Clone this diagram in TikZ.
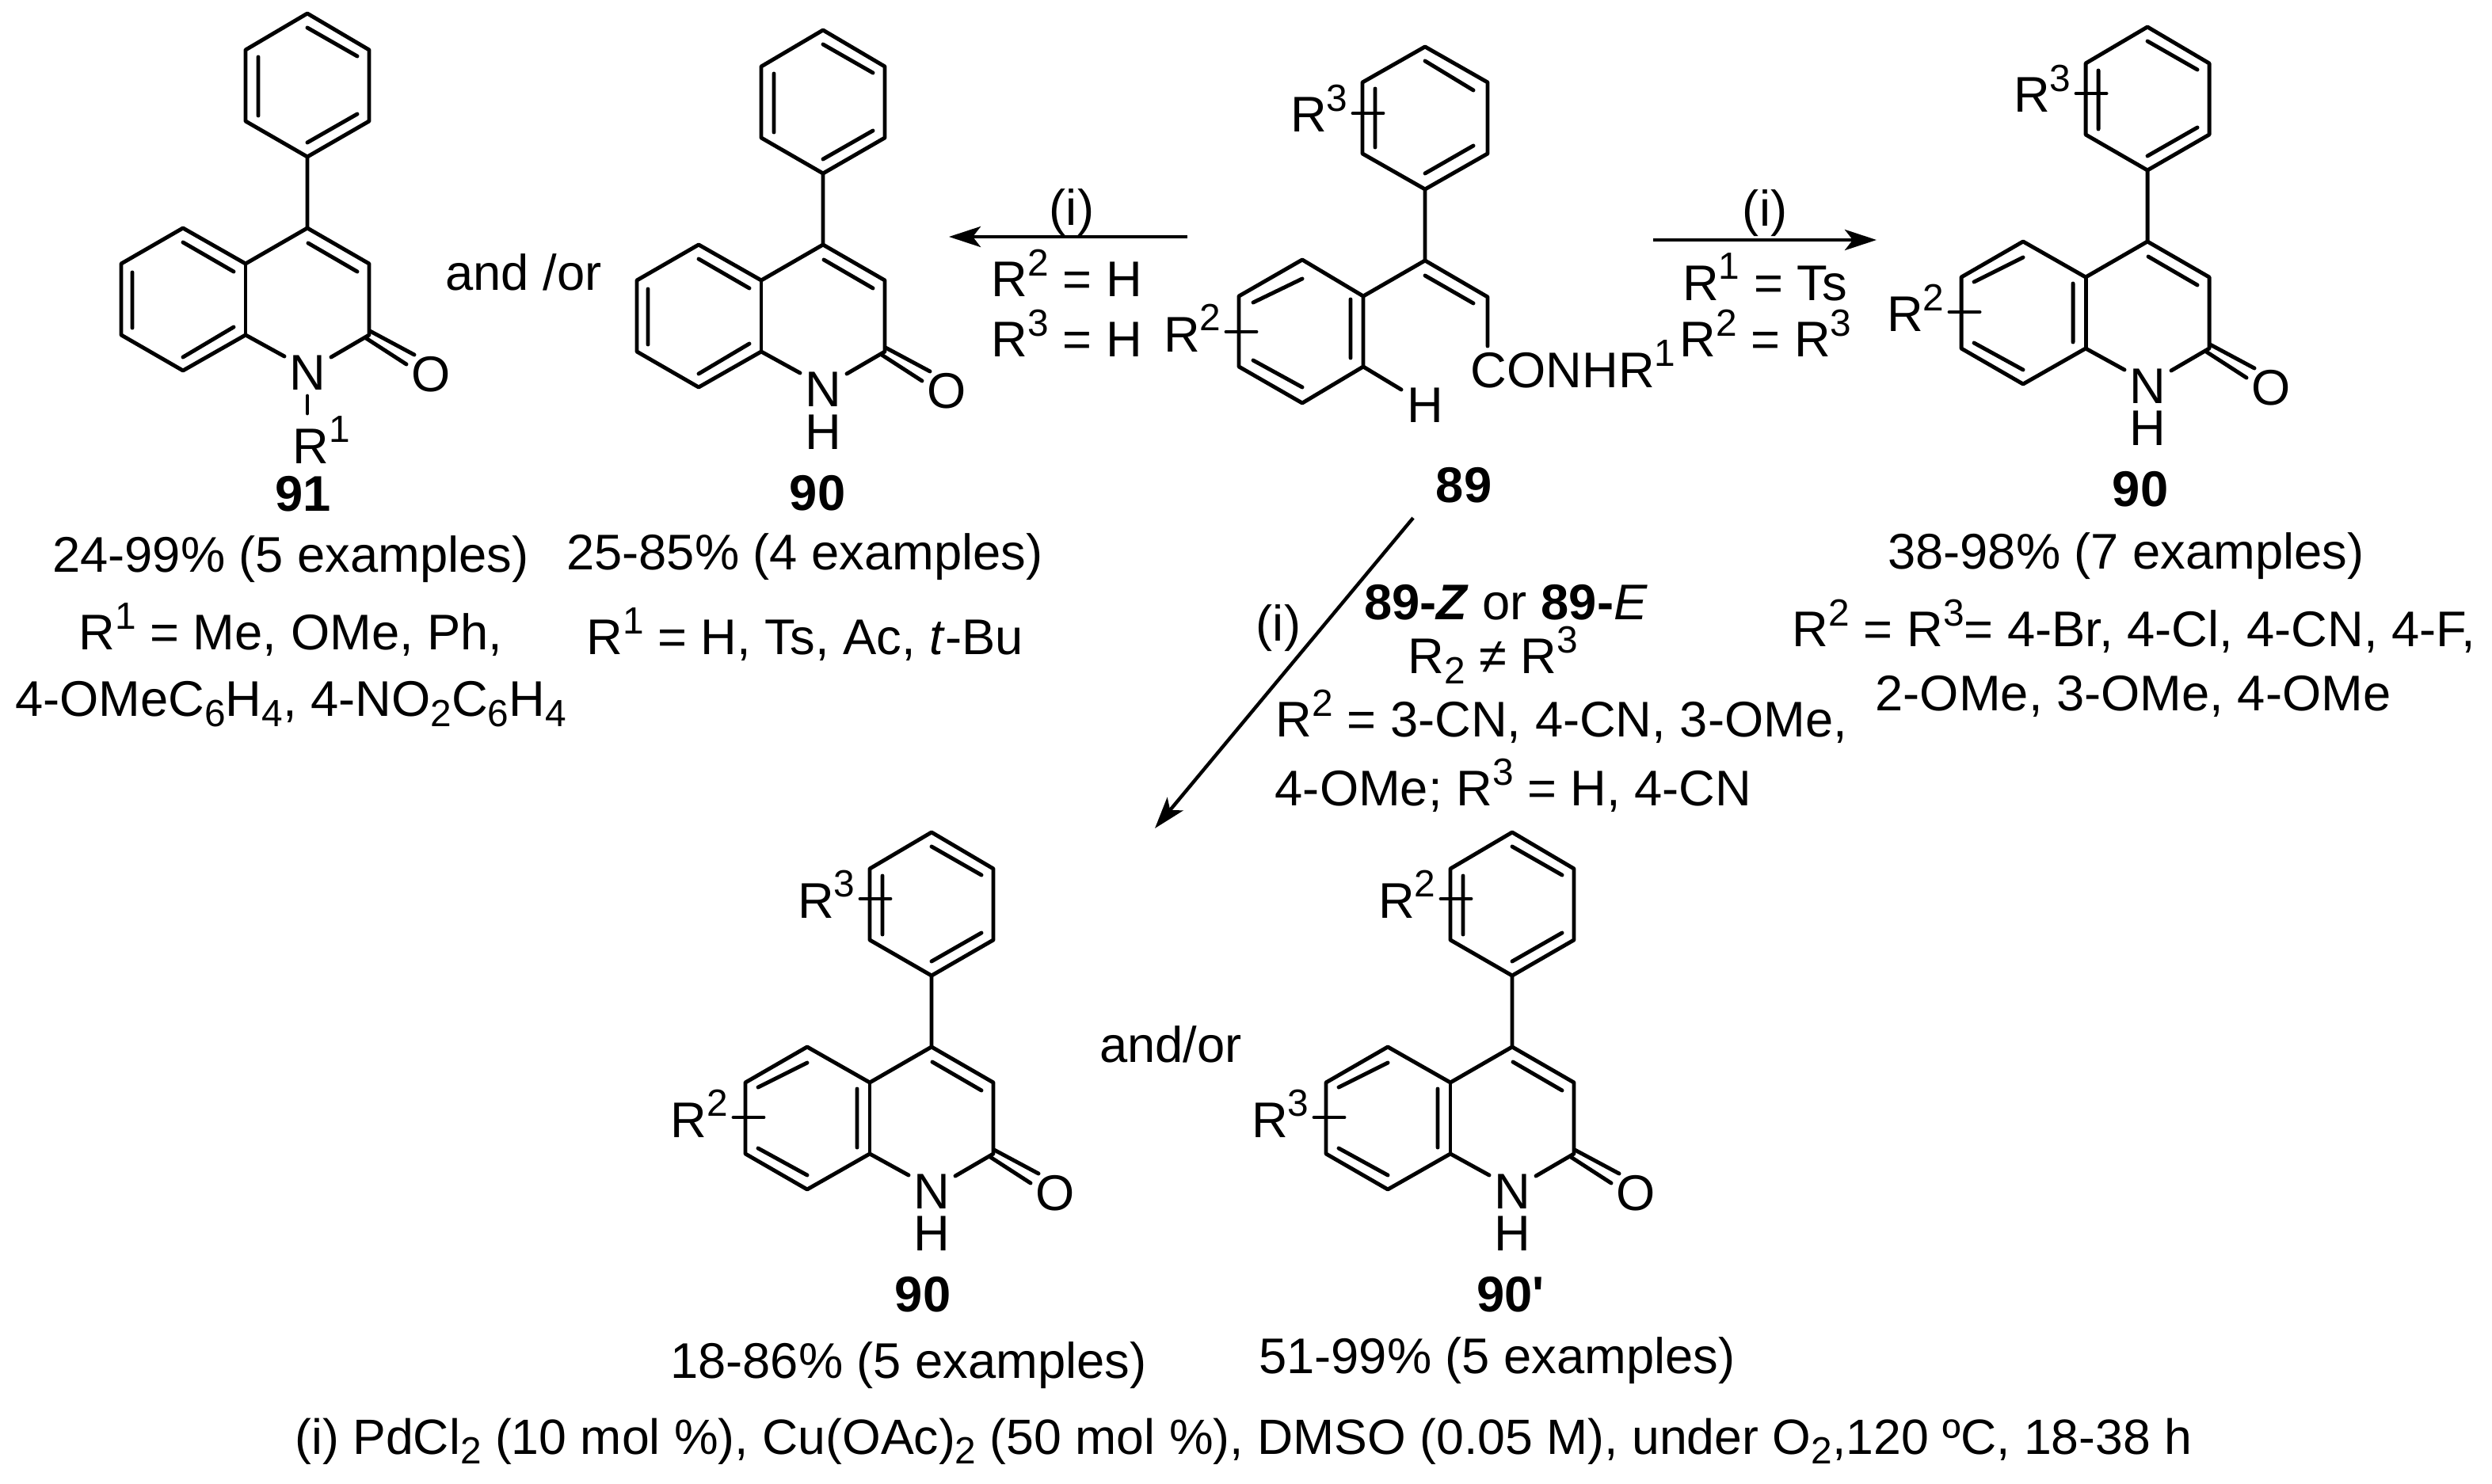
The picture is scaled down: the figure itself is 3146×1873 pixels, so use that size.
\documentclass[tikz,border=0pt]{standalone}
\usepackage{fontspec}
\setmainfont{Liberation Sans}
\usepackage{tikz}
\usetikzlibrary{arrows.meta}
\newcommand{\bodyfont}{\fontsize{18}{21}\selectfont}
\newcommand{\up}[1]{\raisebox{.42em}{\fontsize{13.6}{15}\selectfont #1}}
\newcommand{\dn}[1]{\raisebox{-.2em}{\fontsize{13.6}{15}\selectfont #1}}
\tikzset{
  bond/.style={line width=1.4pt, line cap=round, line join=round},
  rxnarrow/.style={line width=1.25pt, -{Stealth[length=4mm, width=2.6mm, inset=1mm]}},
  lab/.style={inner sep=0pt, font=\bodyfont, text=black},
  atom/.style={inner sep=0pt, font=\bodyfont, text=black},
  % quinolinone core, origin on C4
  pics/quin/.style={code={
    \draw[bond] (0,-90)--(78,-135)--(78,-225)--(0,-271)--(-78,-225)--(-78,-135)--cycle;
    \draw[bond] (0,-90)--(0,0)--(78,45)--(78,135)--(30,163);
    \draw[bond] (0,0)--(-78,45)--(-157,0)--(-235,45)--(-235,135)--(-157,180)--(-78,135)--(-29,162);
    \draw[bond] (-78,45)--(-78,135);
    \draw[bond] (0,-253)--(63,-217) (0,-108)--(63,-144) (-62,-142)--(-62,-216);
    \draw[bond] (1,19)--(63,55);
    \draw[bond] (79,130)--(135,160) (74,139)--(125,172);
    \node[atom] (n) at (0,183) {N};
    \node[atom] (o) at (156,185) {O};
  }},
  % two ways of drawing the benzo ring bonds
  pics/benzoa/.style={code={
    \draw[bond] (-157,18)--(-93,55) (-221,56)--(-221,126) (-157,163)--(-93,125);
  }},
  pics/benzob/.style={code={
    \draw[bond] (-219,51)--(-157,20) (-94,53)--(-94,127) (-219,128)--(-157,162);
  }},
  % R groups on both rings, with their crossing stubs
  pics/rgroups/.style 2 args={code={
    \draw[bond] (-90,-187)--(-52,-187);
    \draw[bond] (-250,89)--(-212,89);
    \node[lab,anchor=base east] (ra) at (-96,-163) {R\up{#1}};
    \node[lab,anchor=base east] (rb) at (-256,114) {R\up{#2}};
  }}
}

\begin{document}
\begin{tikzpicture}[x=0.01cm,y=-0.01cm]
  \useasboundingbox (0,0) rectangle (3146,1873);
  \fill[white] (0,0) rectangle (3146,1873);

  % 91, far left
  \pic (qone) at (388,288) {quin};
  \pic (qoneb) at (388,288) {benzoa};
  \draw[bond] (388,500)--(388,522);
  \node[lab,anchor=base west] (rone) at (369,585) {R\up{1}};
  \node[lab,font=\bodyfont\bfseries] (cpdone) at (383,624) {91};
  \node[lab] (yieldone) at (367,706) {24-99\% (5 examples)};
  \node[lab] (subone) at (367,795) {R\up{1} = Me, OMe, Ph,};
  \node[lab] (subonec) at (367,889) {4-OMeC\dn{6}H\dn{4}, 4-NO\dn{2}C\dn{6}H\dn{4}};
  \node[lab] (andone) at (661,344) {and /or};

  % 90, second from left
  \pic (qtwo) at (1039,309) {quin};
  \pic (qtwob) at (1039,309) {benzoa};
  \node[atom] (htwo) at (1039,546) {H};
  \node[lab,font=\bodyfont\bfseries] (cpdtwo) at (1032,623) {90};
  \node[lab] (yieldtwo) at (1016,703) {25-85\% (4 examples)};
  \node[lab] (subtwo) at (1016,801) {R\up{1} = H, Ts, Ac, \textit{t}-Bu};

  % 89, the substrate
  \draw[bond] (1799,59)--(1878,104)--(1878,194)--(1799,239)--(1720,194)--(1720,104)--cycle;
  \draw[bond] (1799,77)--(1860,114) (1799,219)--(1860,184) (1736,112)--(1736,186);
  \draw[bond] (1799,239)--(1799,329)--(1878,375)--(1878,437);
  \draw[bond] (1799,348)--(1860,383);
  \draw[bond] (1799,329)--(1721,374);
  \draw[bond] (1721,374)--(1644,328)--(1564,374)--(1564,463)--(1644,509)--(1721,463)--cycle;
  \draw[bond] (1721,463)--(1769,492);
  \draw[bond] (1705,378)--(1705,452) (1582,382)--(1644,352) (1582,455)--(1644,489);
  \draw[bond] (1708,143)--(1746,143) (1548,419)--(1586,419);
  \node[lab,anchor=base east] (rthree) at (1702,167) {R\up{3}};
  \node[lab,anchor=base east] (rtwo) at (1542,444) {R\up{2}};
  \node[atom] (hsub) at (1799,512) {H};
  \node[lab,anchor=base west] (conh) at (1856,489) {CONHR\up{1}};
  \node[lab,font=\bodyfont\bfseries] (cpdsub) at (1848,613) {89};

  % top arrows
  \coordinate (la) at (1499,299);
  \coordinate (lb) at (1198,299);
  \draw[rxnarrow] (la)--(lb);
  \node[lab] (li) at (1353,268) {(i)};
  \node[lab] (lc) at (1347,345) {R\up{2} = H};
  \node[lab] (ld) at (1347,421) {R\up{3} = H};

  \coordinate (ra) at (2087,303);
  \coordinate (rb) at (2369,303);
  \draw[rxnarrow] (ra)--(rb);
  \node[lab] (ri) at (2228,269) {(i)};
  \node[lab] (rc) at (2228,350) {R\up{1} = Ts};
  \node[lab] (rd) at (2229,421) {R\up{2} = R\up{3}};

  % 90, right
  \pic (qthree) at (2711,305) {quin};
  \pic (qthreeb) at (2711,305) {benzob};
  \pic (qthreer) at (2711,305) {rgroups={3}{2}};
  \node[atom] (hthree) at (2711,541) {H};
  \node[lab,font=\bodyfont\bfseries] (cpdthree) at (2702,618) {90};
  \node[lab] (yieldthree) at (2684,702) {38-98\% (7 examples)};
  \node[lab] (subthree) at (2694,791) {R\up{2} = R\up{3}= 4-Br, 4-Cl, 4-CN, 4-F,};
  \node[lab] (subthreec) at (2693,879) {2-OMe, 3-OMe, 4-OMe};

  % diagonal arrow and its conditions
  \coordinate (da) at (1784,654);
  \coordinate (db) at (1458,1046);
  \draw[rxnarrow] (da)--(db);
  \node[lab] (di) at (1614,793) {(i)};
  \node[lab] (dc) at (1901,761) {\textbf{89-\textit{Z}} or \textbf{89-}\textit{E}};
  \node[lab] (dd) at (1885,827) {R\dn{2} ≠ R\up{3}};
  \node[lab,anchor=west] (de) at (1610,905) {R\up{2} = 3-CN, 4-CN, 3-OMe,};
  \node[lab,anchor=west] (df) at (1609,992) {4-OMe; R\up{3} = H, 4-CN};

  % 90, bottom
  \pic (qfour) at (1176,1322) {quin};
  \pic (qfourb) at (1176,1322) {benzob};
  \pic (qfourr) at (1176,1322) {rgroups={3}{2}};
  \node[atom] (hfour) at (1176,1558) {H};
  \node[lab,font=\bodyfont\bfseries] (cpdfour) at (1165,1635) {90};
  \node[lab] (yieldfour) at (1147,1724) {18-86\% (5 examples)};
  \node[lab] (andfour) at (1478,1319) {and/or};

  % 90', bottom
  \pic (qfive) at (1909,1322) {quin};
  \pic (qfiveb) at (1909,1322) {benzob};
  \pic (qfiver) at (1909,1322) {rgroups={2}{3}};
  \node[atom] (hfive) at (1909,1558) {H};
  \node[lab,font=\bodyfont\bfseries] (cpdfive) at (1907,1635) {90\textquotesingle};
  \node[lab] (yieldfive) at (1890,1718) {51-99\% (5 examples)};

  \node[lab,font=\fontsize{17.8}{21}\selectfont] (cond) at (1570,1820) {(i) PdCl\dn{2} (10 mol \%), Cu(OAc)\dn{2} (50 mol \%), DMSO (0.05 M), under O\dn{2},120 ºC, 18-38 h};
\end{tikzpicture}
\end{document}
